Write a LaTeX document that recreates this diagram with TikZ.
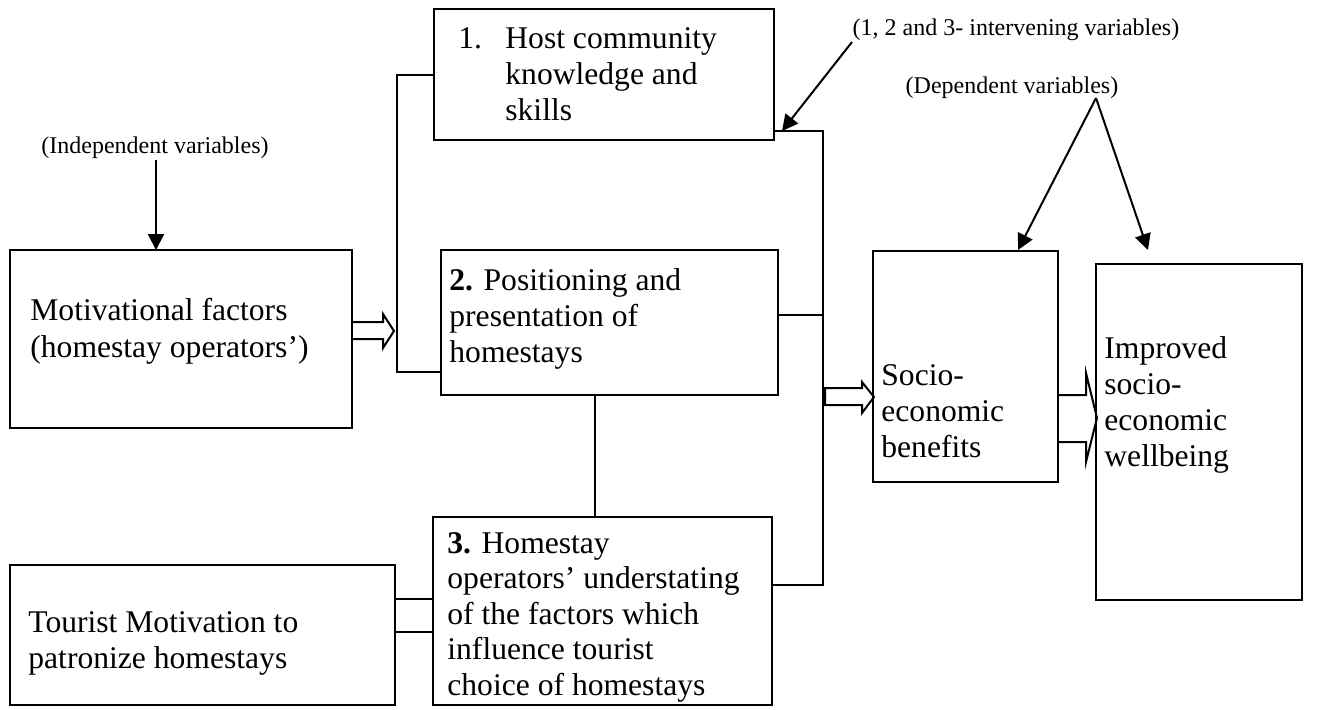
\documentclass[tikz,border=0pt]{standalone}
\usepackage{fontspec}
\setmainfont{Liberation Serif}
\usetikzlibrary{arrows.meta,calc}
\begin{document}
\begin{tikzpicture}[x=0.5pt,y=-0.5pt,
  box/.style={draw, line width=1pt, inner sep=0pt, outer sep=0pt, rectangle},
  txt/.style={anchor=base west, inner sep=0pt, font=\fontsize{15.8}{18}\selectfont},
  small/.style={anchor=base, inner sep=0pt, font=\fontsize{12}{14}\selectfont},
  conn/.style={line width=1pt},
  arr/.style={line width=1pt, -{Triangle[length=8pt,width=8pt]}},
  hollow/.style={draw, line width=1pt, line join=miter}]
\useasboundingbox (0,0) rectangle (1319,709);
% boxes
\node[box, minimum width=171pt, minimum height=89pt] (m) at (181,339) {};
\node[box, minimum width=192.5pt, minimum height=70pt] (t) at (202.5,635) {};
\node[box, minimum width=170pt, minimum height=65.5pt] (b1) at (604,74.5) {};
\node[box, minimum width=168.5pt, minimum height=72.5pt] (b2) at (609.5,322.5) {};
\node[box, minimum width=169.5pt, minimum height=94pt] (b3) at (602.5,611) {};
\node[box, minimum width=92.5pt, minimum height=115.5pt] (s) at (965.5,366.5) {};
\node[box, minimum width=103pt, minimum height=168pt] (i) at (1199,432) {};
% texts
\node[txt] (m1) at (30,320) {Motivational factors};
\node[txt] (m2) at (30,357) {(homestay operators’)};
\node[txt] (t1) at (28,632) {Tourist Motivation to};
\node[txt] (t2) at (28,668) {patronize homestays};
\node[txt] (b1n) at (458,48) {1.};
\node[txt] (b1a) at (505,48) {Host community};
\node[txt] (b1b) at (505,84) {knowledge and};
\node[txt] (b1c) at (505,120) {skills};
\node[txt] (b2a) at (449,290) {\textbf{2.} Positioning and};
\node[txt] (b2b) at (449,326) {presentation of};
\node[txt] (b2c) at (449,362) {homestays};
\node[txt] (b3a) at (447,553) {\textbf{3.} Homestay};
\node[txt] (b3b) at (447,588.5) {operators’ understating};
\node[txt] (b3c) at (447,624) {of the factors which};
\node[txt] (b3d) at (447,659.5) {influence tourist};
\node[txt] (b3e) at (447,695) {choice of homestays};
\node[txt] (s1) at (881,385) {Socio-};
\node[txt] (s2) at (881,421) {economic};
\node[txt] (s3) at (881,457) {benefits};
\node[txt] (i1) at (1104,358) {Improved};
\node[txt] (i2) at (1104,394) {socio-};
\node[txt] (i3) at (1104,430) {economic};
\node[txt] (i4) at (1104,466) {wellbeing};
\node[small] (lind) at (155,153) {(Independent variables)};
\node[small] (lint) at (1016,35) {(1, 2 and 3- intervening variables)};
\node[small] (ldep) at (1012,93) {(Dependent variables)};
% coordinates
\coordinate (lbt) at (397,75);
\coordinate (lbb) at (397,372);
\coordinate (rbt) at (823,131);
\coordinate (rbm) at (823,315);
\coordinate (rbb) at (823,585);
\coordinate (vx) at (595,0);
\coordinate (ia) at (156,160);
\coordinate (iva) at (852,42);
\coordinate (ivt) at (782,131);
\coordinate (apex) at (1096,98);
\coordinate (dl) at (1018,250);
\coordinate (dr) at (1148,250);
% connectors
\draw[conn] (b1.west |- lbt) -- (lbt) -- (lbb) -- (b2.west |- lbb);
\draw[conn] (b1.east |- rbt) -- (rbt) -- (rbb) -- (b3.east |- rbb);
\draw[conn] (b2.east |- rbm) -- (rbm);
\draw[conn] (b2.south -| vx) -- (b3.north -| vx);
\draw[conn] (t.east |- 0,599) rectangle (b3.west |- 0,632);
% hollow arrows
\draw[hollow] (m.east |- 0,322) -- (383,322) -- (383,314) -- (394,331) -- (383,348) -- (383,339) -- (m.east |- 0,339);
\draw[hollow] (825,388) -- (862,388) -- (862,382) -- (874,397) -- (862,413) -- (862,405) -- (825,405) -- cycle;
\draw[hollow] (s.east |- 0,395) -- (1086,395) -- (1086,373) -- (1097,418) -- (1086,462) -- (1086,442) -- (s.east |- 0,442);
% arrows
\draw[arr] (ia) -- (ia |- m.north);
\draw[arr] (iva) -- (ivt);
\draw[arr] (apex) -- (dl);
\draw[arr] (apex) -- (dr);
\end{tikzpicture}
\end{document}
